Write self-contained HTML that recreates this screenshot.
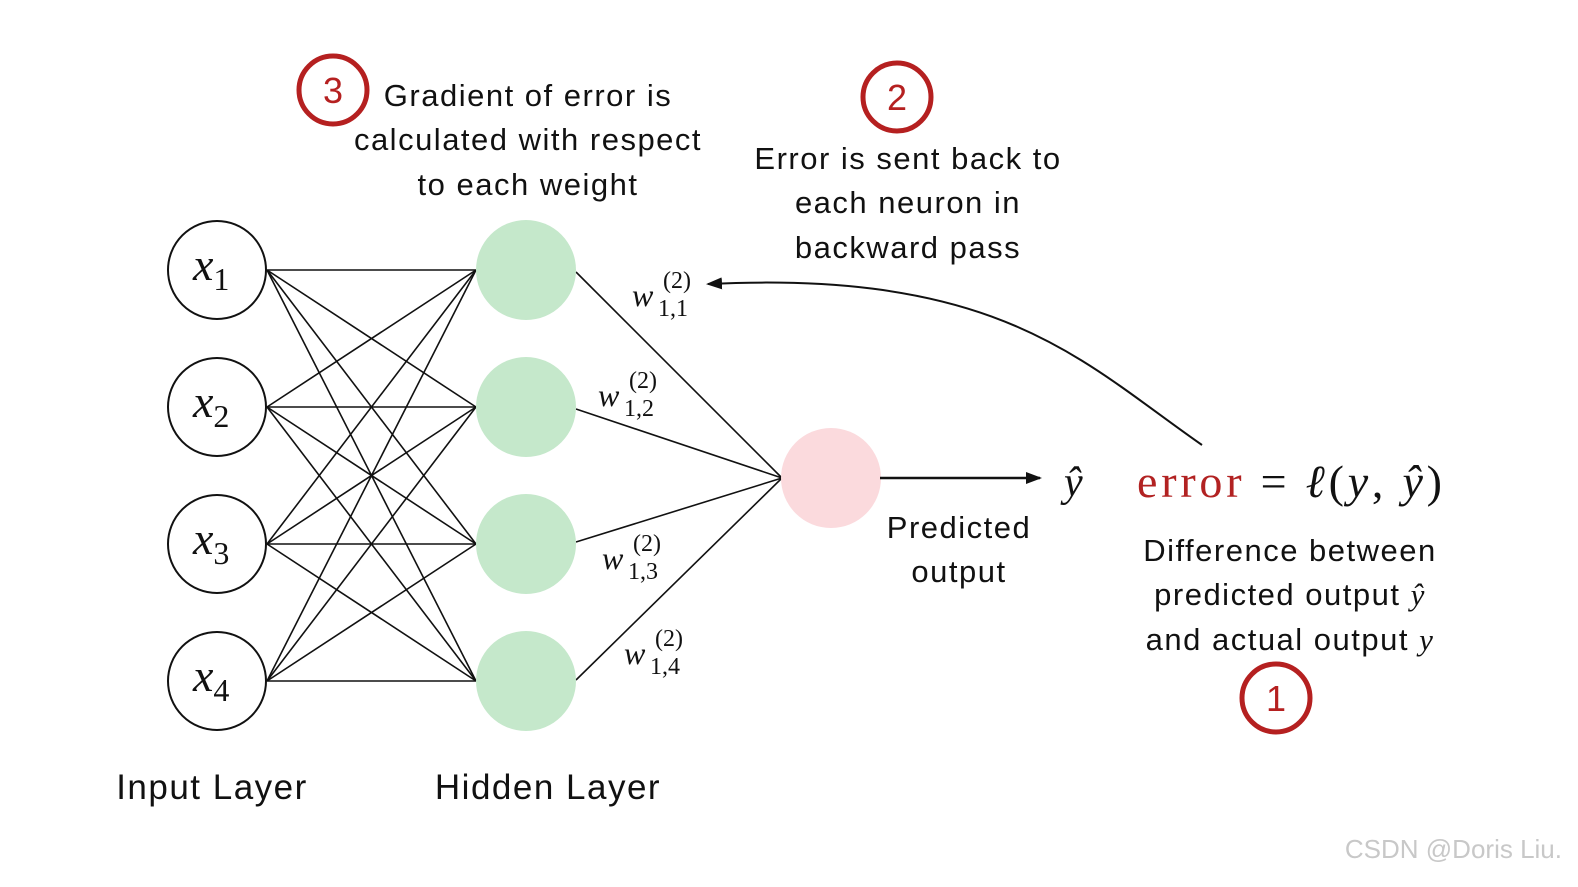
<!DOCTYPE html>
<html><head><meta charset="utf-8"><style>
body{margin:0;background:#fff;}
svg text{fill:#111;}
.t{font-family:"Liberation Sans",sans-serif;letter-spacing:1.5px;}
.s{font-family:"Liberation Serif",serif;font-style:italic;}
.r{font-family:"Liberation Serif",serif;font-style:normal;}
</style></head><body>
<svg width="1578" height="882" viewBox="0 0 1578 882" xmlns="http://www.w3.org/2000/svg">
<defs>
<marker id="b" markerWidth="16" markerHeight="12" refX="14" refY="6" orient="auto" markerUnits="userSpaceOnUse"><path d="M0,0 L16,6 L0,12 z" fill="#111"/></marker></defs>
<g stroke="#111" stroke-width="1.6">
<line x1="267" y1="270" x2="476" y2="270"/><line x1="267" y1="270" x2="476" y2="407"/><line x1="267" y1="270" x2="476" y2="544"/><line x1="267" y1="270" x2="476" y2="681"/>
<line x1="267" y1="407" x2="476" y2="270"/><line x1="267" y1="407" x2="476" y2="407"/><line x1="267" y1="407" x2="476" y2="544"/><line x1="267" y1="407" x2="476" y2="681"/>
<line x1="267" y1="544" x2="476" y2="270"/><line x1="267" y1="544" x2="476" y2="407"/><line x1="267" y1="544" x2="476" y2="544"/><line x1="267" y1="544" x2="476" y2="681"/>
<line x1="267" y1="681" x2="476" y2="270"/><line x1="267" y1="681" x2="476" y2="407"/><line x1="267" y1="681" x2="476" y2="544"/><line x1="267" y1="681" x2="476" y2="681"/>
<line x1="576" y1="272" x2="782" y2="478"/><line x1="576" y1="409" x2="782" y2="478"/><line x1="576" y1="542" x2="782" y2="478"/><line x1="576" y1="680" x2="782" y2="478"/>
</g>
<g fill="#fff" stroke="#111" stroke-width="2">
<circle cx="217" cy="270" r="49"/><circle cx="217" cy="407" r="49"/><circle cx="217" cy="544" r="49"/><circle cx="217" cy="681" r="49"/>
</g>
<g fill="#c5e8cb"><circle cx="526" cy="270" r="50"/><circle cx="526" cy="407" r="50"/><circle cx="526" cy="544" r="50"/><circle cx="526" cy="681" r="50"/></g>
<circle cx="831" cy="478" r="50" fill="#fbdadd"/>
<g font-size="46">
<text x="193" y="280" class="s">x<tspan class="r" font-size="32" dy="10">1</tspan></text>
<text x="193" y="417" class="s">x<tspan class="r" font-size="32" dy="10">2</tspan></text>
<text x="193" y="554" class="s">x<tspan class="r" font-size="32" dy="10">3</tspan></text>
<text x="193" y="691" class="s">x<tspan class="r" font-size="32" dy="10">4</tspan></text>
</g>
<g font-size="24">
<text x="632" y="306" class="s" font-size="32">w</text><text x="663" y="288" class="r">(2)</text><text x="658" y="316" class="r">1,1</text>
<text x="598" y="406" class="s" font-size="32">w</text><text x="629" y="388" class="r">(2)</text><text x="624" y="416" class="r">1,2</text>
<text x="602" y="569" class="s" font-size="32">w</text><text x="633" y="551" class="r">(2)</text><text x="628" y="579" class="r">1,3</text>
<text x="624" y="664" class="s" font-size="32">w</text><text x="655" y="646" class="r">(2)</text><text x="650" y="674" class="r">1,4</text>
</g>
<line x1="880" y1="478" x2="1040" y2="478" stroke="#111" stroke-width="2.5" marker-end="url(#b)"/>
<path d="M1202,445 C1080,360 1000,270 708,284" fill="none" stroke="#111" stroke-width="2" marker-end="url(#b)"/>
<text x="1064" y="496" class="s" font-size="42">ŷ</text>
<text x="1137" y="497" class="r" font-size="46" textLength="305" lengthAdjust="spacing"><tspan style="fill:#b22222">error</tspan> = <tspan class="s">ℓ</tspan>(<tspan class="s">y</tspan>, <tspan class="s">ŷ</tspan>)</text>
<g font-size="31" text-anchor="middle" class="t">
<text x="528" y="106">Gradient of error is</text>
<text x="528" y="150">calculated with respect</text>
<text x="528" y="195">to each weight</text>
<text x="908" y="169">Error is sent back to</text>
<text x="908" y="213">each neuron in</text>
<text x="908" y="258">backward pass</text>
<text x="959" y="538">Predicted</text>
<text x="959" y="582">output</text>
<text x="1290" y="561">Difference between</text>
<text x="1290" y="605">predicted output <tspan class="s">ŷ</tspan></text>
<text x="1290" y="650">and actual output <tspan class="s">y</tspan></text>
<text x="212" y="799" font-size="35">Input Layer</text>
<text x="548" y="799" font-size="35">Hidden Layer</text>
</g>
<g fill="none" stroke="#b52020" stroke-width="5">
<circle cx="333" cy="90" r="34"/><circle cx="897" cy="97" r="34"/><circle cx="1276" cy="698" r="34"/>
</g>
<g font-size="36" text-anchor="middle" font-family="Liberation Sans">
<text x="333" y="103" style="fill:#b52020">3</text><text x="897" y="110" style="fill:#b52020">2</text><text x="1276" y="711" style="fill:#b52020">1</text>
</g>
<text x="1562" y="858" font-size="26" text-anchor="end" font-family="Liberation Sans" style="fill:#c8c8c8">CSDN @Doris Liu.</text>
</svg>
</body></html>
